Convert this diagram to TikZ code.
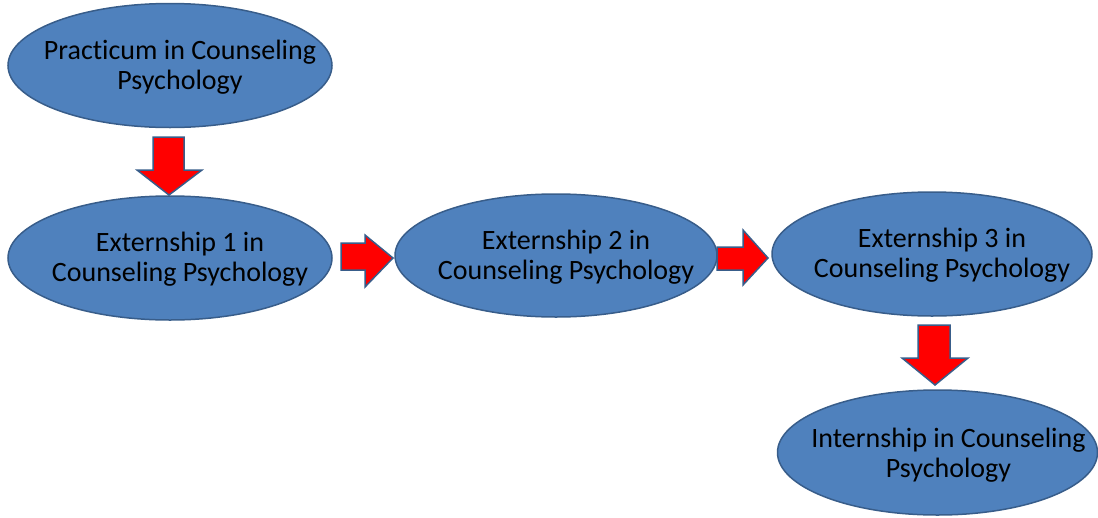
\documentclass[tikz,border=0pt]{standalone}
\usepackage{fontspec}
\setmainfont[Ligatures={NoCommon,NoRare,NoDiscretionary}]{Carlito}
\definecolor{efill}{HTML}{4F81BD}
\definecolor{edraw}{HTML}{385D8A}
\definecolor{afill}{HTML}{FF0000}
\begin{document}
\begin{tikzpicture}[x=1pt,y=-1pt,
  oval/.style={fill=efill,draw=edraw,line width=1.5pt},
  lbl/.style={align=center,font=\fontsize{28}{30}\selectfont,text=black},
  blk/.style={fill=afill,draw=edraw,line width=1.5pt,line join=miter}]
\useasboundingbox (0,0) rectangle (1098,517);
% ellipses
\path[oval] (170,65.5) ellipse [x radius=162,y radius=62];
\coordinate (p) at (170,65.5);
\path[oval] (170,258) ellipse [x radius=162,y radius=62];
\coordinate (e1) at (170,258);
\path[oval] (556,255.5) ellipse [x radius=161,y radius=61.5];
\coordinate (e2) at (556,255.5);
\path[oval] (932,254) ellipse [x radius=160,y radius=62];
\coordinate (e3) at (932,254);
\path[oval] (937.5,452.5) ellipse [x radius=160,y radius=62.5];
\coordinate (in) at (937.5,452.5);
% labels
\node[lbl] (tp) at ([xshift=10pt,yshift=-2pt]p) {Practicum in Counseling\\Psychology};
\node[lbl] (t1) at ([xshift=10pt,yshift=-1.5pt]e1) {Externship 1 in\\Counseling Psychology};
\node[lbl] (t2) at ([xshift=10pt,yshift=-1.5pt]e2) {Externship 2 in\\Counseling Psychology};
\node[lbl] (t3) at ([xshift=10pt,yshift=-1.5pt]e3) {Externship 3 in\\Counseling Psychology};
\node[lbl] (ti) at ([xshift=11pt,yshift=-3pt]in) {Internship in Counseling\\Psychology};
% block arrows
\draw[blk] (153,137) -- (184,137) -- (184,170) -- (202,170) -- (169,195) -- (137,170) -- (153,170) -- cycle;
\draw[blk] (341,243) -- (365,243) -- (365,235) -- (393,258) -- (365,287) -- (365,270) -- (341,270) -- cycle;
\draw[blk] (717,247) -- (743,247) -- (743,230) -- (768,258) -- (743,285) -- (743,270) -- (717,270) -- cycle;
\draw[blk] (918,325) -- (950,325) -- (950,358) -- (968,358) -- (935,385) -- (902,358) -- (918,358) -- cycle;
\end{tikzpicture}
\end{document}
